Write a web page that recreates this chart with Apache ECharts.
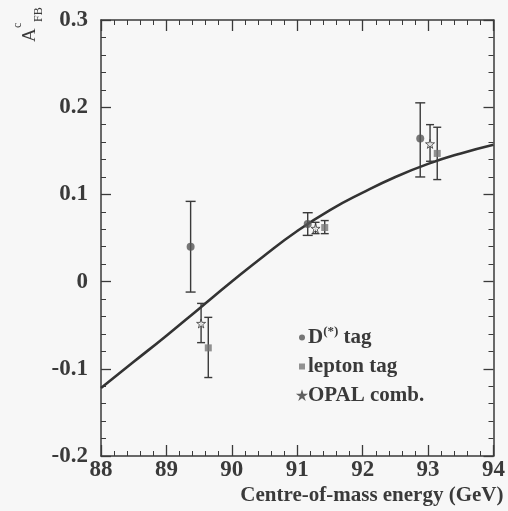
<!DOCTYPE html>
<html>
<head>
<meta charset="utf-8">
<script src="https://cdn.jsdelivr.net/npm/echarts@6/dist/echarts.min.js"></script>
<style>
  html, body { margin: 0; padding: 0; background: #f7f7f7; }
  #chart { width: 508px; height: 511px; }
</style>
</head>
<body>
<div id="chart"></div>
<script>
// Charm forward-backward asymmetry vs centre-of-mass energy
const xTicks = [88, 89, 90, 91, 92, 93, 94];
const yTicks = [-0.2, -0.1, 0, 0.1, 0.2, 0.3];

// D(*) tag measurements
const dstarE = [89.37, 91.16, 92.88];
const dstarA = [0.040, 0.066, 0.164];
const dstarUp = [0.052, 0.013, 0.041];
const dstarDown = [0.052, 0.013, 0.044];

// lepton tag measurements
const leptonE = [89.64, 91.42, 93.14];
const leptonA = [-0.076, 0.062, 0.147];
const leptonUp = [0.035, 0.008, 0.030];
const leptonDown = [0.034, 0.007, 0.030];

// OPAL combined
const opalE = [89.53, 91.28, 93.03];
const opalA = [-0.048, 0.061, 0.158];
const opalUp = [0.023, 0.007, 0.022];
const opalDown = [0.022, 0.006, 0.020];

// Standard Model expectation
const curveE = [88, 88.5, 89, 89.5, 90, 90.5, 91, 91.5, 92, 92.5, 93, 93.5, 94];
const curveA = [-0.122, -0.092, -0.062, -0.031, 0.000, 0.030, 0.058, 0.082, 0.102, 0.120, 0.135, 0.147, 0.157];

const ink = '#3a3a3a';
const serif = '"Liberation Serif", "DejaVu Serif", serif';
const starPath = 'path://M50,0 L61,35 L98,35 L68,57 L79,91 L50,70 L21,91 L32,57 L2,35 L39,35 Z';

function errorSeries(name, xs, ys, up, down, cap) {
  return {
    name: name + ' err',
    type: 'custom',
    silent: true,
    z: 3,
    data: xs.map((x, i) => [x, ys[i] - down[i], ys[i] + up[i]]),
    renderItem: function (params, api) {
      const lo = api.coord([api.value(0), api.value(1)]);
      const hi = api.coord([api.value(0), api.value(2)]);
      const st = { stroke: ink, lineWidth: 1.4 };
      return {
        type: 'group',
        children: [
          { type: 'line', shape: { x1: lo[0], y1: lo[1], x2: hi[0], y2: hi[1] }, style: st },
          { type: 'line', shape: { x1: lo[0] - cap, y1: lo[1], x2: lo[0] + cap, y2: lo[1] }, style: st },
          { type: 'line', shape: { x1: hi[0] - cap, y1: hi[1], x2: hi[0] + cap, y2: hi[1] }, style: st }
        ]
      };
    }
  };
}

const chart = echarts.init(document.getElementById('chart'));
const axisLine = { show: true, onZero: false, lineStyle: { color: ink, width: 1.5 } };

chart.setOption({
  backgroundColor: '#f7f7f7',
  animation: false,
  grid: { left: 101, right: 12, top: 20, bottom: 55 },
  xAxis: [{
    type: 'value', min: xTicks[0], max: xTicks[xTicks.length - 1], interval: 1,
    axisLine: axisLine,
    axisTick: { inside: true, length: 11, lineStyle: { color: ink, width: 1.3 } },
    minorTick: { show: true, splitNumber: 5, length: 5, lineStyle: { color: ink, width: 1 } },
    splitLine: { show: false },
    axisLabel: { fontFamily: serif, fontWeight: 'bold', fontSize: 23, color: ink, margin: 3 },
    name: 'Centre-of-mass energy (GeV)',
    nameLocation: 'end',
    nameGap: 0,
    nameTextStyle: { fontFamily: serif, fontWeight: 'bold', fontSize: 21, color: ink,
      align: 'right', verticalAlign: 'top', padding: [29, -10, 0, 0] }
  }, {
    type: 'value', position: 'top', min: xTicks[0], max: xTicks[xTicks.length - 1], interval: 1,
    axisLine: axisLine,
    axisTick: { inside: true, length: 11, lineStyle: { color: ink, width: 1.3 } },
    minorTick: { show: true, splitNumber: 5, length: 5, lineStyle: { color: ink, width: 1 } },
    splitLine: { show: false }, axisLabel: { show: false }
  }],
  yAxis: [{
    type: 'value', min: yTicks[0], max: yTicks[yTicks.length - 1], interval: 0.1,
    axisLine: axisLine,
    axisTick: { inside: true, length: 10, lineStyle: { color: ink, width: 1.3 } },
    minorTick: { show: true, splitNumber: 5, length: 5, lineStyle: { color: ink, width: 1 } },
    splitLine: { show: false },
    axisLabel: {
      fontFamily: serif, fontWeight: 'bold', fontSize: 23, color: ink, margin: 13,
      formatter: v => {
        const r = Math.round(v * 10) / 10;
        return r === 0 ? '0' : r.toFixed(1);
      }
    }
  }, {
    type: 'value', position: 'right', min: yTicks[0], max: yTicks[yTicks.length - 1], interval: 0.1,
    axisLine: axisLine,
    axisTick: { inside: true, length: 10, lineStyle: { color: ink, width: 1.3 } },
    minorTick: { show: true, splitNumber: 5, length: 5, lineStyle: { color: ink, width: 1 } },
    splitLine: { show: false }, axisLabel: { show: false }
  }],
  legend: {
    orient: 'vertical',
    left: 293, top: 320,
    itemGap: 8,
    itemWidth: 6, itemHeight: 6,
    selectedMode: false,
    textStyle: {
      fontFamily: serif, fontWeight: 'bold', fontSize: 21, color: ink, padding: [0, 0, 0, -2],
      rich: {
        b: { fontFamily: serif, fontWeight: 'bold', fontSize: 21, color: ink },
        s: { fontFamily: serif, fontWeight: 'bold', fontSize: 13, color: ink, padding: [0, 0, 12, 0] }
      }
    },
    formatter: name => name === 'D(*) tag' ? '{b|D}{s|(*)}{b| tag}' : name,
    data: [
      { name: 'D(*) tag', icon: 'circle' },
      { name: 'lepton tag', icon: 'rect' },
      { name: 'OPAL comb.', icon: starPath }
    ]
  },
  graphic: [
    { type: 'text', x: 21, y: 42, rotation: Math.PI / 2,
      style: { text: 'A', font: 'normal 19px ' + serif, fill: ink } },
    { type: 'text', x: 12, y: 28, rotation: Math.PI / 2,
      style: { text: 'c', font: 'normal 12px ' + serif, fill: ink } },
    { type: 'text', x: 33, y: 22, rotation: Math.PI / 2,
      style: { text: 'FB', font: 'normal 12px ' + serif, fill: ink } }
  ],
  series: [
    {
      name: 'SM', type: 'line', smooth: true, symbol: 'none', z: 2,
      lineStyle: { color: '#333', width: 2.6 },
      data: curveE.map((x, i) => [x, curveA[i]])
    },
    errorSeries('D(*) tag', dstarE, dstarA, dstarUp, dstarDown, 5),
    errorSeries('lepton tag', leptonE, leptonA, leptonUp, leptonDown, 4),
    errorSeries('OPAL comb.', opalE, opalA, opalUp, opalDown, 4),
    {
      name: 'D(*) tag', type: 'scatter', symbol: 'circle', symbolSize: 8, z: 4,
      itemStyle: { color: '#555' },
      data: dstarE.map((x, i) => [x, dstarA[i]])
    },
    {
      name: 'lepton tag', type: 'scatter', symbol: 'rect', symbolSize: 7, z: 4,
      itemStyle: { color: '#777' },
      data: leptonE.map((x, i) => [x, leptonA[i]])
    },
    {
      name: 'OPAL comb.', type: 'scatter', symbol: starPath, symbolSize: 9, z: 4,
      itemStyle: { color: '#f7f7f7', borderColor: ink, borderWidth: 1 },
      data: opalE.map((x, i) => [x, opalA[i]])
    }
  ]
});
</script>
</body>
</html>
